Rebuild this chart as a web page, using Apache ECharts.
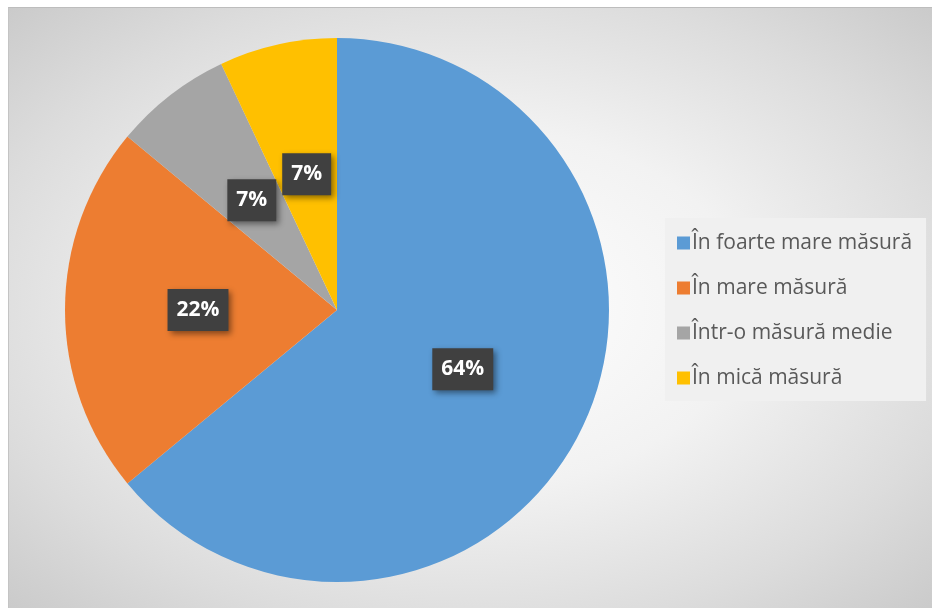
<!DOCTYPE html>
<html>
<head>
<meta charset="utf-8">
<script src="https://cdn.jsdelivr.net/npm/echarts@6/dist/echarts.min.js"></script>
<style>
html,body{margin:0;padding:0;background:#ffffff;width:932px;height:608px;overflow:hidden;}
#bg{position:absolute;left:8px;top:7px;width:924px;height:601px;border-top:1px solid #bdbdbd;border-left:1px solid #c4c4c4;box-sizing:border-box;
background:radial-gradient(ellipse 75% 75% at 50% 50%, #ffffff 0%, #f2f2f2 40%, #dcdcdc 72%, #c6c6c6 100%);}
#chart{position:absolute;left:0;top:0;width:932px;height:608px;}
</style>
</head>
<body>
<div id="bg"></div>
<div id="chart"></div>
<script>
const categories = ['În foarte mare măsură', 'În mare măsură', 'Într-o măsură medie', 'În mică măsură'];
const values = [64, 22, 7, 7];
const colors = ['#5b9bd5', '#ed7d31', '#a5a5a5', '#ffc000'];

const chart = echarts.init(document.getElementById('chart'), null, {renderer: 'canvas'});
chart.setOption({
  backgroundColor: 'transparent',
  animation: false,
  color: colors,
  legend: {
    orient: 'vertical',
    left: 665,
    top: 218,
    backgroundColor: '#f0f0f0',
    padding: [13, 14, 11, 12],
    itemGap: 21,
    itemWidth: 13,
    itemHeight: 13,
    icon: 'rect',
    textStyle: {fontFamily: 'Open Sans', fontSize: 21, lineHeight: 24, color: '#595959', padding: [0, 0, 0, -3]},
    data: categories
  },
  series: [{
    type: 'pie',
    center: [337, 310],
    radius: 272,
    startAngle: 90,
    clockwise: true,
    avoidLabelOverlap: false,
    data: categories.map((c, i) => ({name: c, value: values[i]})),
    itemStyle: {borderWidth: 0},
    label: {
      show: true,
      position: 'inside',
      formatter: p => Math.round(p.percent) + '%',
      color: '#ffffff',
      fontFamily: 'Open Sans',
      fontWeight: 'bold',
      fontSize: 21,
      lineHeight: 26,
      backgroundColor: '#404040',
      padding: [8, 9, 8, 9],
      shadowColor: 'rgba(0,0,0,0.45)',
      shadowBlur: 6,
      shadowOffsetX: 3,
      shadowOffsetY: 3
    },
    labelLine: {show: false},
    emphasis: {disabled: true}
  }]
});
</script>
</body>
</html>
